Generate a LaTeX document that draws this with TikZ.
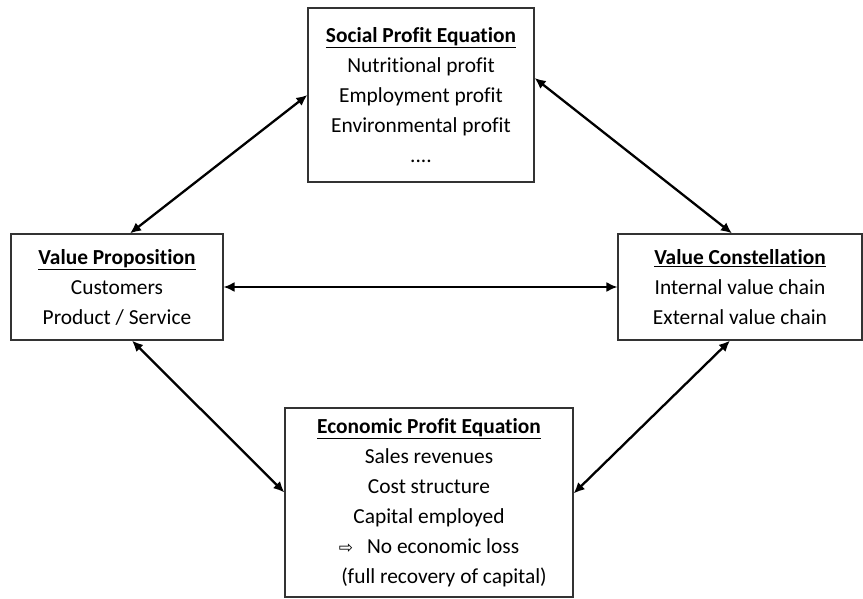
\documentclass[tikz,border=0pt]{standalone}
\usepackage{fontspec}
\setmainfont{Carlito}[Ligatures=NoCommon]
\newfontfamily\arrowfont{DejaVu Sans}
\usetikzlibrary{arrows.meta}

\begin{document}
\begin{tikzpicture}[
      x=1pt, y=-1pt,
      every node/.style={draw=black!80, line width=1.2pt, align=center, inner sep=0pt,
        font=\fontsize{21.4}{30}\selectfont},
      biarrow/.style={{Latex[length=11pt,width=10pt]}-{Latex[length=11pt,width=10pt]}, line width=2.3pt}
    ]
    \useasboundingbox (0,0) rectangle (863,599);
    % caixas
    \node[minimum width=226pt, minimum height=174pt] (spe) at (421,95)
      {\underline{\textbf{Social Profit Equation}}\\ Nutritional profit\\ Employment profit\\ Environmental profit\\ ....};
    \node[minimum width=212pt, minimum height=106pt] (vp) at (117,287)
      {\underline{\textbf{Value Proposition}}\\ Customers\\ Product / Service};
    \node[minimum width=244pt, minimum height=106pt] (vc) at (740,287)
      {\underline{\textbf{Value Constellation}}\\ Internal value chain\\ External value chain};
    \node[minimum width=288pt, minimum height=189pt] (epe) at (429,502.5)
      {\underline{\textbf{Economic Profit Equation}}\\ Sales revenues\\ Cost structure\\ Capital employed\\
       {\arrowfont\fontsize{17}{30}\selectfont ⇨}\hspace{14pt}No economic loss\\
       \hspace*{30pt}(full recovery of capital)};

    \draw[biarrow] ([xshift=13pt]vp.north) -- (spe.west);
    \draw[biarrow] ([yshift=17pt]spe.east) -- ([xshift=-8pt]vc.north);
    \draw[biarrow, line width=1.8pt] (vp.east) -- (vc.west);
    \draw[biarrow] ([xshift=15pt]vp.south) -- ([yshift=10pt]epe.west);
    \draw[biarrow] ([xshift=-10pt]vc.south) -- ([yshift=9pt]epe.east);

  \end{tikzpicture}
\end{document}
